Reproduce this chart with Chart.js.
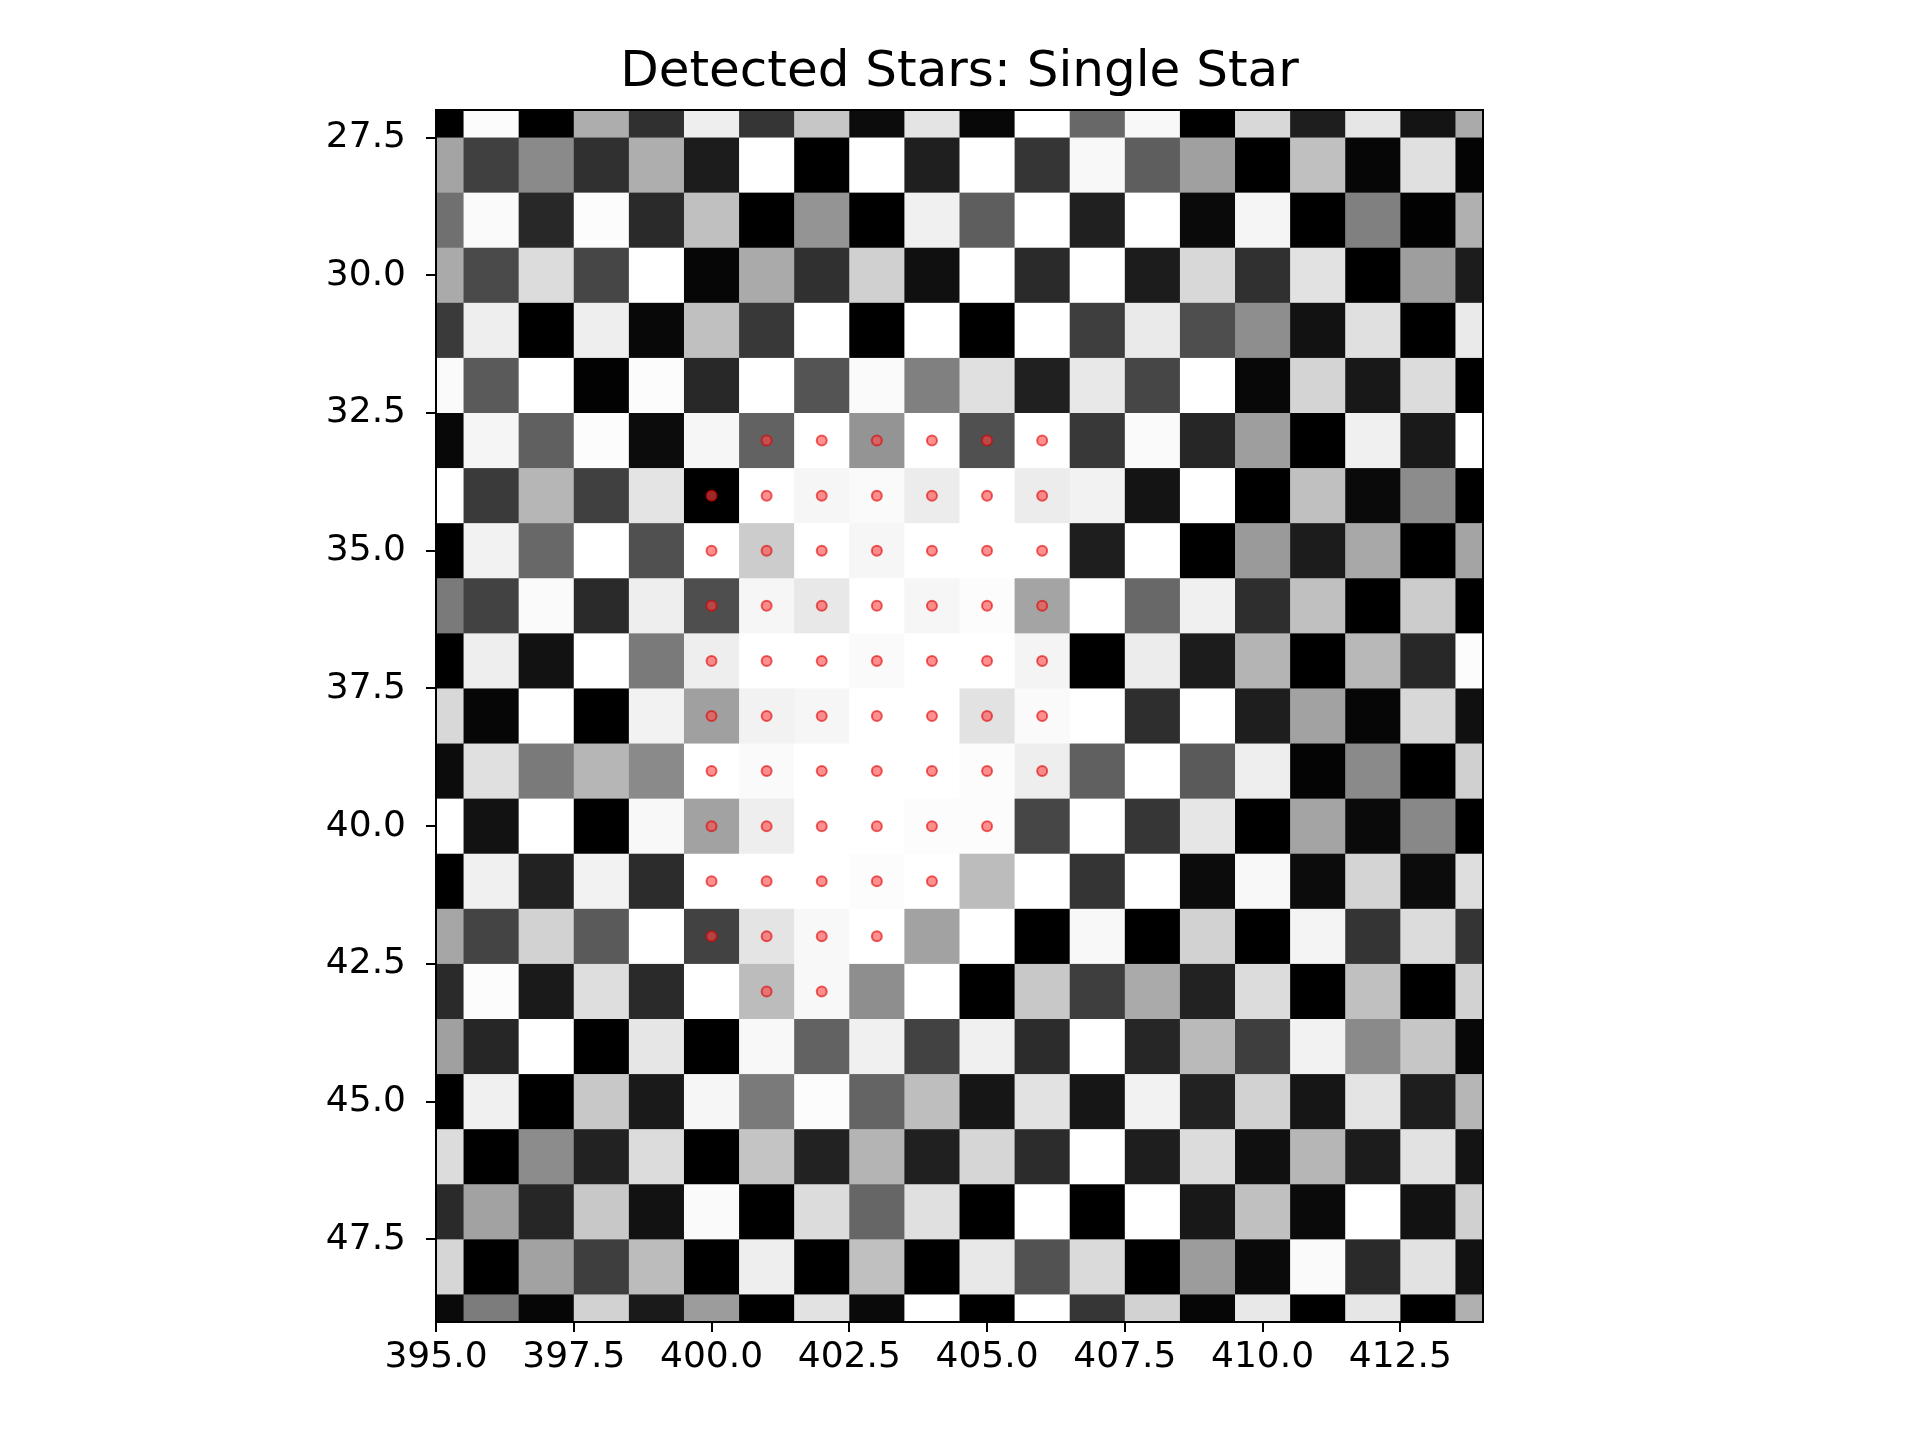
<!DOCTYPE html>
<html><head><meta charset="utf-8">
<script src="https://cdn.jsdelivr.net/npm/chart.js@4/dist/chart.umd.min.js"></script>
<style>html,body{margin:0;padding:0;background:#fff}#wrap{width:1920px;height:1440px}</style>
</head><body><div id="wrap"><canvas id="c" width="1920" height="1440"></canvas></div>
<script>
const title = "Detected Stars: Single Star";
const colX = [395,396,397,398,399,400,401,402,403,404,405,406,407,408,409,410,411,412,413,414];
const rowY = [27,28,29,30,31,32,33,34,35,36,37,38,39,40,41,42,43,44,45,46,47,48,49];
const xTicks = [395.0,397.5,400.0,402.5,405.0,407.5,410.0,412.5];
const yTicks = [27.5,30.0,32.5,35.0,37.5,40.0,42.5,45.0,47.5];
// gray intensity (0-255), one row per y value, columns follow colX
const intensity = [
[0,252,0,173,48,238,53,198,12,228,8,255,104,248,0,216,30,230,20,170],
[164,64,138,48,174,28,255,0,255,31,255,53,248,94,160,0,192,6,224,4],
[112,250,40,252,42,192,0,148,0,240,94,255,32,255,10,245,0,128,2,176],
[170,74,220,70,255,6,170,48,208,16,255,42,255,28,216,48,226,0,158,28],
[58,238,0,238,8,192,56,255,0,255,0,255,62,234,78,142,18,224,0,234],
[250,90,255,2,252,40,255,84,250,128,224,32,232,70,255,8,212,24,220,0],
[8,245,96,252,12,246,98,255,148,255,80,255,56,250,38,158,0,240,26,255],
[255,58,182,64,228,0,255,246,250,236,255,236,242,20,255,0,192,10,140,0],
[0,242,104,255,80,255,204,255,246,255,255,255,30,255,0,154,28,168,0,164],
[122,66,250,42,238,78,246,232,255,246,252,164,255,104,240,46,192,0,204,0],
[0,238,18,255,122,238,255,255,250,255,255,244,0,236,28,180,0,184,40,252],
[216,6,255,0,242,160,242,246,255,255,226,250,255,46,255,30,162,6,216,16],
[12,224,122,182,138,255,250,255,255,255,252,238,96,255,90,238,4,138,0,208],
[255,18,255,0,248,162,238,255,255,252,252,70,255,54,230,0,164,10,136,0],
[0,240,34,242,44,255,255,255,252,255,188,255,52,255,12,248,12,212,12,222],
[166,68,210,90,255,66,228,248,255,162,255,0,248,0,210,0,244,52,220,52],
[42,252,26,222,42,255,188,248,142,255,0,200,62,170,34,220,0,192,0,210],
[160,38,255,0,230,0,248,98,240,66,240,44,255,38,186,62,242,138,198,8],
[0,240,0,200,26,246,122,252,100,190,22,226,22,242,34,210,22,228,30,182],
[220,0,140,34,220,0,196,34,180,32,214,44,255,30,220,16,182,28,226,20],
[42,162,38,200,18,250,0,220,102,224,0,255,0,255,24,192,10,255,18,208],
[214,0,162,62,188,0,238,0,192,0,232,82,218,0,156,10,250,42,226,18],
[10,124,6,210,26,156,0,226,10,255,0,255,54,210,6,232,0,230,0,176]
];
const starX = [401,402,403,404,405,406, 400,401,402,403,404,405,406, 400,401,402,403,404,405,406, 400,401,402,403,404,405,406, 400,401,402,403,404,405,406, 400,401,402,403,404,405,406, 400,401,402,403,404,405,406, 400,401,402,403,404,405, 400,401,402,403,404, 400,401,402,403, 401,402];
const starY = [33,33,33,33,33,33, 34,34,34,34,34,34,34, 35,35,35,35,35,35,35, 36,36,36,36,36,36,36, 37,37,37,37,37,37,37, 38,38,38,38,38,38,38, 39,39,39,39,39,39,39, 40,40,40,40,40,40, 41,41,41,41,41, 42,42,42,42, 43,43];

const cellPlugin = {
  id: 'cells',
  beforeDatasetsDraw(chart) {
    const {ctx, chartArea: a, scales: {x, y}} = chart;
    ctx.save();
    ctx.beginPath(); ctx.rect(a.left, a.top, a.right - a.left, a.bottom - a.top); ctx.clip();
    rowY.forEach((ry, i) => {
      const y0 = y.getPixelForValue(ry - 0.5), y1 = y.getPixelForValue(ry + 0.5);
      colX.forEach((cx, j) => {
        const x0 = x.getPixelForValue(cx - 0.5), x1 = x.getPixelForValue(cx + 0.5);
        const v = intensity[i][j];
        ctx.fillStyle = `rgb(${v},${v},${v})`;
        ctx.fillRect(Math.min(x0,x1), Math.min(y0,y1), Math.abs(x1-x0)+0.6, Math.abs(y1-y0)+0.6);
      });
    });
    ctx.restore();
  },
  afterDraw(chart) {
    const {ctx, chartArea: a} = chart;
    ctx.save();
    ctx.strokeStyle = '#000'; ctx.lineWidth = 2;
    ctx.strokeRect(a.left, a.top, a.right - a.left, a.bottom - a.top);
    ctx.fillStyle = '#000';
    ctx.font = '50px "DejaVu Sans"';
    ctx.textAlign = 'center'; ctx.textBaseline = 'alphabetic';
    ctx.fillText(title, (a.left + a.right) / 2, 86);
    ctx.restore();
  }
};

new Chart(document.getElementById('c'), {
  type: 'scatter',
  data: { datasets: [{
    data: starX.map((v, i) => ({x: v, y: starY[i]})),
    pointRadius: 5, pointHoverRadius: 5,
    backgroundColor: 'rgba(255,70,70,0.6)',
    borderColor: 'rgba(220,0,0,0.6)', borderWidth: 2
  }]},
  options: {
    responsive: false, animation: false, devicePixelRatio: 1,
    layout: { padding: { left: 236, right: 437, top: 110, bottom: 18 } },
    plugins: { legend: {display: false}, tooltip: {enabled: false} },
    scales: {
      x: {
        type: 'linear', min: 395, max: 414,
        afterBuildTicks: s => { s.ticks = xTicks.map(v => ({value: v})); },
        afterFit: s => { s.height = 100; },
        grid: { drawOnChartArea: false, drawTicks: true, tickLength: 10, color: '#000', lineWidth: 2 },
        border: { display: true, color: '#000', width: 2 },
        ticks: { color: '#000', font: {family: 'DejaVu Sans', size: 36}, padding: 4, maxRotation: 0, autoSkip: false,
                 callback: v => Number(v).toFixed(1) }
      },
      y: {
        type: 'linear', min: 27, max: 49, reverse: true,
        afterBuildTicks: s => { s.ticks = yTicks.map(v => ({value: v})); },
        afterFit: s => { s.width = 200; },
        grid: { drawOnChartArea: false, drawTicks: true, tickLength: 10, color: '#000', lineWidth: 2 },
        border: { display: true, color: '#000', width: 2 },
        ticks: { color: '#000', font: {family: 'DejaVu Sans', size: 36}, padding: 20, autoSkip: false,
                 callback: v => Number(v).toFixed(1) }
      }
    }
  },
  plugins: [cellPlugin]
});
</script></body></html>
